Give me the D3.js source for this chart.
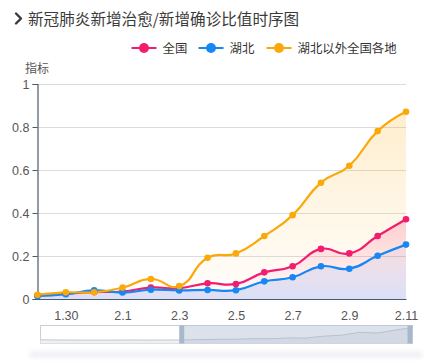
<!DOCTYPE html>
<html><head><meta charset="utf-8">
<script src="https://cdn.jsdelivr.net/npm/d3@7"></script>
<style>
html,body{margin:0;padding:0;background:#fff;}
svg{display:block;font-family:"Noto Sans CJK SC","Noto Sans",sans-serif;}
</style></head>
<body>
<svg id="chart" width="436" height="361"></svg>
<script>
// ---- data ----
const titleText = "新冠肺炎新增治愈/新增确诊比值时序图";
const yAxisName = "指标";
const dates = ["1.29","1.30","1.31","2.1","2.2","2.3","2.4","2.5","2.6","2.7","2.8","2.9","2.10","2.11"];
const xTickLabels = ["1.30","2.1","2.3","2.5","2.7","2.9","2.11"];
const yTicks = [0, 0.2, 0.4, 0.6, 0.8, 1];
const seriesNames = ["全国","湖北","湖北以外全国各地"];
const nationValues  = [0.015,0.025,0.032,0.035,0.053,0.05,0.073,0.07,0.124,0.152,0.233,0.212,0.293,0.371];
const hubeiValues   = [0.014,0.022,0.040,0.030,0.043,0.04,0.042,0.041,0.082,0.101,0.152,0.141,0.201,0.253];
const outsideValues = [0.020,0.031,0.031,0.053,0.093,0.06,0.192,0.212,0.293,0.390,0.541,0.620,0.781,0.871];
// full-range data shown as the shadow inside the zoom slider (全国, from 1.21)
const shadowDates = ["1.21","1.22","1.23","1.24","1.25","1.26","1.27","1.28"].concat(dates);
const shadowValues = [0.02,0.015,0.012,0.01,0.012,0.015,0.012,0.014].concat(nationValues);
const zoomStartIndex = 8;

const colors = ["#f21d6e","#1787f4","#fba90a"];

// ---- layout ----
const svg = d3.select("#chart");
const plot = {left:37.5, right:406, top:84, bottom:299};

const x = d3.scaleLinear().domain([0, dates.length-1]).range([plot.left, plot.right]);
const y = d3.scaleLinear().domain([0, 1]).range([plot.bottom, plot.top]);

// card shadow below
const defs = svg.append("defs");
const blur = defs.append("filter").attr("id","blur").attr("x","-10%").attr("y","-100%").attr("width","120%").attr("height","300%");
blur.append("feGaussianBlur").attr("stdDeviation", 2);
svg.append("rect").attr("x",30).attr("y",351).attr("width",392).attr("height",7)
  .attr("fill","#f0f1f4").attr("filter","url(#blur)");

// title
svg.append("path").attr("d","M16,13.5 L21,18.5 L16,23.5").attr("fill","none")
  .attr("stroke","#3a3a3a").attr("stroke-width",2.4).attr("stroke-linecap","round").attr("stroke-linejoin","round");
svg.append("text").attr("x",28).attr("y",24.5).attr("font-size",15.6).attr("fill","#3a3a3a").text(titleText);

// legend
const legendItems = [
  {name:seriesNames[0], color:colors[0], x:131.5},
  {name:seriesNames[1], color:colors[1], x:198.5},
  {name:seriesNames[2], color:colors[2], x:266.5}
];
const lg = svg.append("g");
legendItems.forEach(it => {
  lg.append("line").attr("x1",it.x).attr("x2",it.x+25).attr("y1",48).attr("y2",48)
    .attr("stroke",it.color).attr("stroke-width",2);
  lg.append("circle").attr("cx",it.x+12.5).attr("cy",48).attr("r",5).attr("fill",it.color);
  lg.append("text").attr("x",it.x+31).attr("y",52.5).attr("font-size",12.4).attr("fill","#333").text(it.name);
});

// y axis name
svg.append("text").attr("x",25).attr("y",73).attr("font-size",12).attr("fill","#555").text(yAxisName);

// grid lines
svg.append("g").selectAll("line").data(yTicks.filter(d=>d>0)).join("line")
  .attr("x1",plot.left).attr("x2",plot.right)
  .attr("y1",d=>Math.round(y(d))+0.5).attr("y2",d=>Math.round(y(d))+0.5)
  .attr("stroke","#dcdcdc").attr("stroke-width",1);

// gradients for areas
function grad(id, stops){
  const g = defs.append("linearGradient").attr("id",id).attr("x1",0).attr("y1",0).attr("x2",0).attr("y2",1);
  stops.forEach(s=>g.append("stop").attr("offset",s[0]).attr("stop-color",s[1]).attr("stop-opacity",s[2]));
}
grad("gPink",[[0,"#f21d6e",0.2],[1,"#f21d6e",0.0]]);
grad("gBlue",[[0,"#5a8cf0",0.04],[1,"#4a5fd8",0.2]]);
grad("gOrange",[[0,"#fba90a",0.2],[0.75,"#fba90a",0.06],[1,"#fba90a",0.0]]);
const gradIds = ["gPink","gBlue","gOrange"];

// echarts-like smoothing
function smoothPath(pts, smooth){
  let d = "M"+pts[0][0]+","+pts[0][1];
  let cpx0 = pts[0][0], cpy0 = pts[0][1];
  for (let i=1;i<pts.length;i++){
    const [px,py] = pts[i-1], [cx,cy] = pts[i];
    let cpx1, cpy1, vx=0, vy=0, ratio=0.5;
    if (i+1 >= pts.length){ cpx1=cx; cpy1=cy; }
    else {
      const [nx,ny] = pts[i+1];
      vx = nx-px; vy = ny-py;
      const l0 = Math.hypot(cx-px, cy-py), l1 = Math.hypot(nx-cx, ny-cy);
      ratio = l1/(l0+l1);
      cpx1 = cx - vx*smooth*(1-ratio); cpy1 = cy - vy*smooth*(1-ratio);
    }
    d += "C"+cpx0+","+cpy0+","+cpx1+","+cpy1+","+cx+","+cy;
    cpx0 = cx + vx*smooth*ratio; cpy0 = cy + vy*smooth*ratio;
  }
  return d;
}

const allSeries = [nationValues, hubeiValues, outsideValues];
const ptsOf = vals => vals.map((v,i)=>[x(i), y(v)]);

// areas
allSeries.forEach((vals,k)=>{
  const pts = ptsOf(vals);
  const d = smoothPath(pts,0.5)+"L"+x(vals.length-1)+","+y(0)+"L"+x(0)+","+y(0)+"Z";
  svg.append("path").attr("d",d).attr("fill","url(#"+gradIds[k]+")");
});

// axes
const yAxis = svg.append("g").attr("transform","translate("+plot.left+",0)")
  .call(d3.axisLeft(y).tickValues(yTicks).tickSize(5).tickFormat(d3.format("~g")));
yAxis.select(".domain").attr("stroke","#4b5b6b").attr("stroke-width",1.2);
yAxis.selectAll(".tick line").attr("stroke","#4b5b6b");
yAxis.selectAll(".tick text").attr("fill","#555").attr("font-size",12.5).attr("x",-8)
  .attr("font-family","'Liberation Sans',Arial,sans-serif");

const xAxis = svg.append("g").attr("transform","translate(0,"+plot.bottom+")")
  .call(d3.axisBottom(x).tickValues(xTickLabels.map(l=>dates.indexOf(l))).tickSize(0)
    .tickFormat(i=>dates[i]).tickSizeOuter(0));
xAxis.select(".domain").attr("stroke","#4b5b6b").attr("stroke-width",1.2);
xAxis.selectAll(".tick text").attr("fill","#555").attr("font-size",12.5).attr("dy","1.45em")
  .attr("font-family","'Liberation Sans',Arial,sans-serif");

// lines + points
allSeries.forEach((vals,k)=>{
  const pts = ptsOf(vals);
  svg.append("path").attr("d",smoothPath(pts,0.5)).attr("fill","none")
    .attr("stroke",colors[k]).attr("stroke-width",2.2);
});
allSeries.forEach((vals,k)=>{
  svg.append("g").selectAll("circle").data(vals).join("circle")
    .attr("cx",(d,i)=>x(i)).attr("cy",d=>y(d)).attr("r",3.3).attr("fill",colors[k]);
});

// data zoom slider
const sl = {left:40.5, right:412.5, top:325.5, bottom:343.5};
const sx = d3.scaleLinear().domain([0, shadowDates.length-1]).range([sl.left, sl.right]);
const sy = d3.scaleLinear().domain([0, d3.max(shadowValues)]).range([sl.bottom-3, sl.top+2]);
svg.append("rect").attr("x",sl.left).attr("y",sl.top).attr("width",sl.right-sl.left).attr("height",sl.bottom-sl.top)
  .attr("fill","#fff").attr("stroke","#c9ced8");
const shadowLine = d3.line().x((d,i)=>sx(i)).y(d=>sy(d));
const shadowArea = d3.area().x((d,i)=>sx(i)).y0(sl.bottom).y1(d=>sy(d));
svg.append("path").attr("d",shadowArea(shadowValues)).attr("fill","#eef0f3");
svg.append("path").attr("d",shadowLine(shadowValues)).attr("fill","none").attr("stroke","#c4c8cf").attr("stroke-width",1);
const hx0 = sx(zoomStartIndex), hx1 = sl.right;
svg.append("rect").attr("x",hx0).attr("y",sl.top).attr("width",hx1-hx0).attr("height",sl.bottom-sl.top)
  .attr("fill","rgba(167,183,204,0.4)");
svg.append("rect").attr("x",hx0-3).attr("y",sl.top).attr("width",5).attr("height",sl.bottom-sl.top).attr("fill","#a9b7cc");
svg.append("rect").attr("x",hx1-5).attr("y",sl.top).attr("width",5).attr("height",sl.bottom-sl.top).attr("fill","#a9b7cc");
</script>
</body></html>
